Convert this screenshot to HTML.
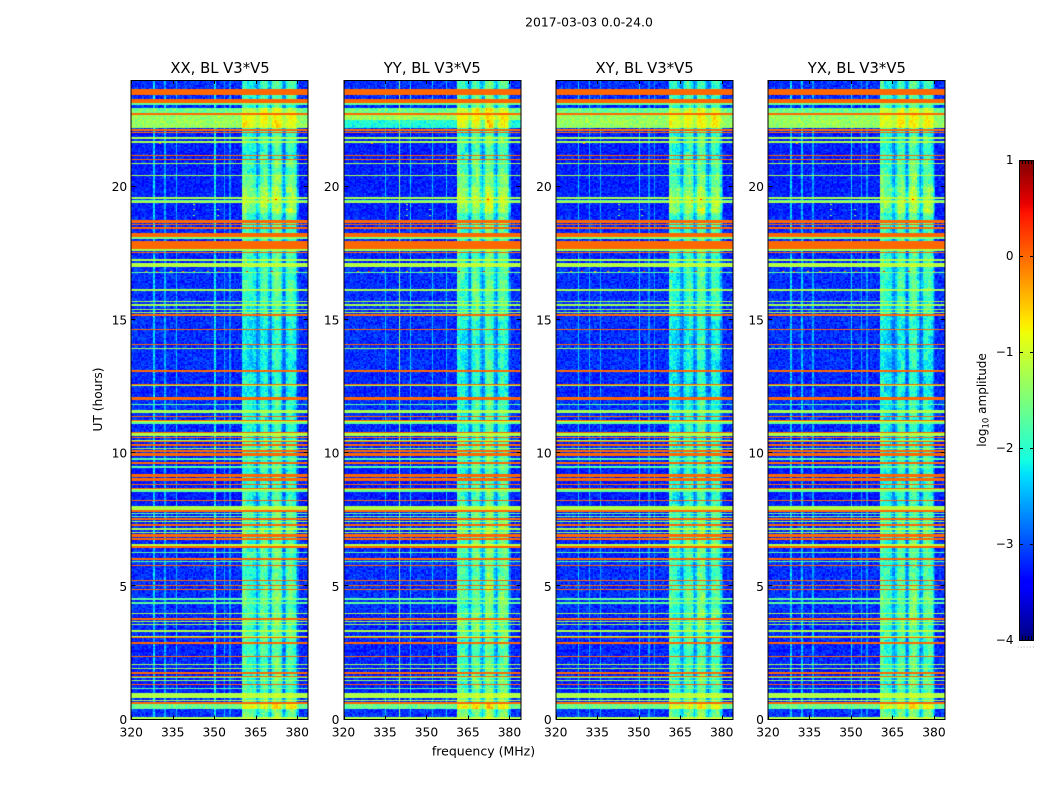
<!DOCTYPE html>
<html>
<head>
<meta charset="utf-8">
<title>2017-03-03 0.0-24.0</title>
<style>
html,body{margin:0;padding:0;background:#fff;}
#figure{position:relative;width:1050px;height:800px;overflow:hidden;background:#fff;}
#figure canvas{position:absolute;display:block;}
#overlay{position:absolute;left:0;top:0;}
#overlay text{font-family:"DejaVu Sans","Liberation Sans",sans-serif;fill:#000;}
</style>
</head>
<body>
<div id="figure">
<svg id="overlay" width="1050" height="800" viewBox="0 0 1050 800"></svg>
</div>
<script>
// ---------- chart data ----------
const panelTitles = ["XX, BL V3*V5", "YY, BL V3*V5", "XY, BL V3*V5", "YX, BL V3*V5"];
const figureTitle = "2017-03-03 0.0-24.0";
const xTickValues = [320, 335, 350, 365, 380];
const yTickValues = [0, 5, 10, 15, 20];
const colorbarTickValues = [1, 0, -1, -2, -3, -4];

// Broad horizontal bands: start hour, end hour, log10 amplitude
const wideBands = [
  [23.47,23.66,0],[23.17,23.29,0],[22.75,22.97,-1.6],[22.19,22.68,-1.35],[22.11,22.17,0],
  [21.98,22.05,0],[18.67,18.77,0],[18.41,18.49,0],[18.09,18.26,0],[18.03,18.09,-1.5],
  [17.64,17.97,0],[17.52,17.57,0],[17.21,17.28,-1.2],[16.99,17.14,-1.15],[16.76,16.82,-1.7],
  [15.33,15.41,-1.25],[14.58,14.65,0],[12.02,12.09,0],[11.55,11.61,-1.25],[11.17,11.26,-1.0],
  [10.65,10.74,-1.2],[9.10,9.20,0],[8.95,9.06,0],[8.61,8.72,-1.15],[7.86,7.98,-1.2],
  [7.08,7.19,-1.2],[6.52,6.61,-1.15],[3.29,3.36,-1.2],[3.07,3.17,-1.15],[2.03,2.09,-1.2],
  [1.28,1.35,0],[0.92,0.98,-1.2],[0.80,0.88,-1.15],[0.42,0.58,-1.65],[0.02,0.10,-1.2]
];
// Band overrides for the YY panel
const yyBands = [[22.19,22.5,-2.1],[22.5,22.68,-1.3]];
// Bands that keep visible cell-to-cell scatter: start hour, end hour
const noisyBandRanges = [[22.19,22.97],[16.76,16.82],[0.42,0.58]];
// Hours where the interference block runs hot: start hour, end hour, extra log10 gain
const hotBlockRanges = [[0.4,0.62,0.75],[22.19,22.68,0.8],[22.75,22.97,0.7]];

// Single-row horizontal lines, by hour
const orangeLineHours = [22.72,21.17,21.0,18.56,15.16,14.08,13.09,12.58,11.39,11.23,10.78,10.59,10.42,10.33,10.27,10.05,9.99,9.93,9.61,8.80,8.70,8.24,7.81,7.51,7.34,7.26,6.92,6.86,6.77,6.47,6.05,5.76,5.21,5.04,4.86,3.76,3.09,2.86,2.37,1.79,1.71,1.64,0.63];
const greenLineHours = [21.80,21.68,20.90,20.42,19.58,19.41,17.61,16.14,15.69,15.59,15.50,15.25,13.93,12.51,11.51,10.49,10.18,7.42,7.02,3.95,3.66,3.57,1.94,1.46,0.73];
const cyanLineHours = [23.13,23.07,19.47,11.80,11.14,9.76,9.46,8.55,7.70,7.61,6.26,5.92,4.55,4.36,1.56,1.17];
const orangeLineLevel = 0;
const greenLineLevel = -1.25;
const cyanLineLevel = -1.7;

// Quiet-sky level for each hour of the day
const hourBackground = [-3.15,-3.25,-3.2,-3.2,-3.15,-3.15,-3.2,-3.2,-3.25,-3.25,-3.2,-3.15,-3.2,-3.15,-3.15,-3.15,-3.15,-3.2,-3.2,-3.25,-3.25,-3.25,-3.15,-3.15];

// Log10 level of the interference block by channel (0.5 MHz each, from 320 MHz)
const channelLevels = [
 -4,-4,-4,-4,-4,-4,-4,-4,-4,-4, -4,-4,-4,-4,-4,-4,-4,-4,-4,-4,
 -4,-4,-4,-4,-4,-4,-4,-4,-4,-4, -4,-4,-4,-4,-4,-4,-4,-4,-4,-4,
 -4,-4,-4,-4,-4,-4,-4,-4,-4,-4, -4,-4,-4,-4,-4,-4,-4,-4,-4,-4,
 -4,-4,-4,-4,-4,-4,-4,-4,-4,-4, -4,-4,-4,-4,-4,-4,-4,-4,-4,-3.4,
 -2.0,-1.85,-1.9,-1.95,-2.05,-2.1,-2.1,-2.15,-2.2,-2.3,
 -2.75,-3.0,-2.5,-2.1,-1.95,-1.85,-1.85,-1.9,-2.1,-2.6,
 -3.05,-2.6,-1.95,-1.75,-1.7,-1.7,-1.75,-1.85,-2.2,-2.7,
 -3.05,-2.7,-2.1,-1.9,-1.85,-1.85,-1.9,-1.95,-2.1,-2.6,
 -3.3,-4,-4,-4,-4,-4,-4,-4
];
// Change of the interference block per half hour, 0h to 24h
const blockGainByHalfHour = [
 .35,.2,.1,.05,.05,.05,.1,.15,.1,.15,.1,.05,.1,.15,.1,0,-.05,-.05,-.05,-.05,
 0,-.1,-.15,-.15,-.25,-.25,-.3,-.25,-.35,-.25,-.1,0,.05,0,0,0,0,.1,.55,.55,
 .25,.1,-.05,-.05,.1,.1,.05,0
];
const panelBlockGain = [0.03, 0.15, 0, 0];
const panelBlockStartMHz = [360, 361, 361, 360.5];

// Narrow vertical interference lines: frequency (MHz), log10 amplitude
const xxChannelLines = [[328,-2.45],[332,-2.7],[336,-2.6],[350,-2.3],[353.5,-2.8],[355.5,-2.9]];
const yyChannelLines = [[335,-2.6],[340,-1.45],[344,-2.5],[352,-2.6],[357,-2.6]];
const xyChannelLines = [[328,-2.55],[332,-2.7],[336,-2.7],[350,-2.4],[353.5,-2.9],[355.5,-2.9]];
const yxChannelLines = [[328,-2.5],[332,-2.6],[336,-2.7],[350,-2.4],[353.5,-2.8],[355.5,-2.9]];

// Isolated bright cells: hour, frequency, log10 amplitude
const hotCells = [
 [16.78,325,-.2],[16.78,329,.3],[16.78,334,-.3],[16.78,338.5,-.2],[16.78,342.5,-.3],[16.78,347.5,-.1],[16.78,351.5,.3],
 [16.78,361.5,.4],[16.78,370.5,.4],[16.78,379.5,-.2],[21.58,330,-.2],[19.49,372,.4],[19.45,369,-.3],
 [19.3,342.5,-1.2],[19.1,342.5,-1.3],[18.9,342.5,-1.4],[19.1,351,-1.3],[18.9,351,-1.3]
];

// Cell-to-cell speckle table
const speckle = [
 .62,-.41,.13,-.88,.35,.77,-.22,-.59,.94,.08,-.71,.46,-.13,.29,-.95,.53,.18,-.34,.83,-.66,
 .04,.69,-.49,.25,-.81,.11,.58,-.27,.91,-.6,.39,-.08,-.75,.72,.21,-.44,.16,-.92,.5,.33,
 -.19,.87,-.55,.07,.64,-.37,-.84,.42,.27,-.63,.98,-.1,-.52,.3,.75,-.3,-.69,.14,.56,-.97,
 .36,-.16,.81,-.47,.02,.6,-.78,.23,.47,-.24,-.57,.89,-.04,.67,-.9,.19,.41,-.36,.74,-.65,
 .1,.52,-.83,.31,-.12,.97,-.46,-.7,.24,.66,-.29,.06,-.54,.84,-.2,.44,-.76
];

// ---------- layout ----------
const NS = "http://www.w3.org/2000/svg";
const figure = document.getElementById("figure");
const svg = document.getElementById("overlay");
const panelLefts = [131.25, 343.5, 555.75, 768];
const panelWidth = 177, plotTop = 80, plotBottom = 719.5;
const freqMin = 320, freqMax = 384, hourMin = 0, hourMax = 24;
const hourStep = 0.05, chanStep = 0.5;
const rowCount = 480, chanCount = 128;
const cbLeft = 1019, cbRight = 1034, cbTop = 160, cbBottom = 640;

function xScale(k, f) { return panelLefts[k] + (f - freqMin) / (freqMax - freqMin) * panelWidth; }
function yScale(h) { return plotBottom - (h - hourMin) / (hourMax - hourMin) * (plotBottom - plotTop); }
function cbY(v) { return cbBottom - (v + 4) / 5 * (cbBottom - cbTop); }

function jet(v) {
  const f = Math.max(0, Math.min(1, (v + 4) / 5));
  const seg = (pts) => {
    for (let i = 1; i < pts.length; i++) {
      if (f <= pts[i][0]) {
        const a = pts[i - 1], b = pts[i];
        return a[1] + (b[1] - a[1]) * (f - a[0]) / (b[0] - a[0]);
      }
    }
    return pts[pts.length - 1][1];
  };
  const r = seg([[0,0],[.35,0],[.66,1],[.89,1],[1,.5]]);
  const g = seg([[0,0],[.125,0],[.375,1],[.64,1],[.91,0],[1,0]]);
  const b = seg([[0,.5],[.11,1],[.34,1],[.65,0],[1,0]]);
  return "rgb(" + Math.round(r * 255) + "," + Math.round(g * 255) + "," + Math.round(b * 255) + ")";
}

function make(tag, attrs, text) {
  const el = document.createElementNS(NS, tag);
  for (const k in attrs) el.setAttribute(k, attrs[k]);
  if (text !== undefined) el.textContent = text;
  svg.appendChild(el);
  return el;
}

// Row levels for one panel: null where no band crosses the row
function bandRows(k) {
  const rows = new Array(rowCount).fill(null);
  const put = (start, end, level) => {
    for (let r = 0; r < rowCount; r++) {
      const c = (r + 0.5) * hourStep;
      if (c >= start && c < end) rows[r] = level;
    }
  };
  const putLine = (h, level) => {
    const r = Math.min(rowCount - 1, Math.floor(h / hourStep));
    rows[r] = level;
  };
  wideBands.forEach(b => put(b[0], b[1], b[2]));
  if (k === 1) yyBands.forEach(b => put(b[0], b[1], b[2]));
  cyanLineHours.forEach(h => putLine(h, cyanLineLevel));
  greenLineHours.forEach(h => putLine(h, greenLineLevel));
  orangeLineHours.forEach(h => putLine(h, orangeLineLevel));
  return rows;
}

function noisyRow(hour) {
  return noisyBandRanges.some(b => hour >= b[0] && hour < b[1]);
}
function hotGain(hour) {
  let g = 0;
  hotBlockRanges.forEach(b => { if (hour >= b[0] && hour < b[1]) g = b[2]; });
  return g;
}

const panelChannelLines = [xxChannelLines, yyChannelLines, xyChannelLines, yxChannelLines];

function drawHeatmap(k) {
  const left = Math.floor(panelLefts[k]);
  const top = plotTop;
  const w = panelWidth + 1, h = Math.ceil(plotBottom - plotTop);
  const canvas = document.createElement("canvas");
  
  
  canvas.width = w; canvas.height = h;
  canvas.style.left = left + "px";
  canvas.style.top = top + "px";
  figure.insertBefore(canvas, svg);
  const ctx = canvas.getContext("2d");
  const rows = bandRows(k);
  const lineLevels = channelLevels.slice();
  const isLine = new Array(chanCount).fill(false);
  panelChannelLines[k].forEach(l => {
    const c = Math.round((l[0] - freqMin) / chanStep);
    lineLevels[c] = l[1];
    isLine[c] = true;
  });
  for (let r = 0; r < rowCount; r++) {
    const hour = r * hourStep;
    const bg = hourBackground[Math.floor(hour)];
    const centre = hour + hourStep / 2;
    const gain = blockGainByHalfHour[Math.floor(hour * 2)] + panelBlockGain[k] + hotGain(centre);
    const bandNoise = noisyRow(centre) ? 0.28 : 0.02;
    const y0 = Math.round(yScale(hour + hourStep)) - top;
    const y1 = Math.round(yScale(hour)) - top;
    for (let c = 0; c < chanCount; c++) {
      const f = freqMin + c * chanStep;
      const sp = speckle[(r * r * 3 + c * c * 7 + r * c * 11 + r * 5 + c * 13) % speckle.length];
      let level = lineLevels[c];
      const inBlock = !isLine[c] && f >= panelBlockStartMHz[k] - 1;
      const active = level > -3.9 && (isLine[c] || f >= panelBlockStartMHz[k]);
      if (inBlock) level += gain;
      let v = bg + sp * 0.28;
      if (active) {
        const sp2 = speckle[(r * 13 + c * c * 5 + r * c * 3 + 17) % speckle.length];
        const br = Math.floor(r / 6), bc = Math.floor(c / 4);
        const patch = speckle[(br * br * 5 + bc * bc * 3 + br * bc * 7 + k * 11 + br * 3) % speckle.length];
        v = Math.log10(Math.pow(10, v) + Math.pow(10, level + sp2 * 0.33 + (inBlock ? patch * 0.2 : 0)));
      }
      const band = rows[r];
      if (band === 0) v = 0;
      else if (band !== null) v = Math.log10(Math.pow(10, v) + Math.pow(10, band + sp * bandNoise));
      const x0 = Math.round(xScale(k, f)) - left;
      const x1 = Math.round(xScale(k, f + chanStep)) - left;
      ctx.fillStyle = jet(v);
      ctx.fillRect(x0, y0, x1 - x0, y1 - y0);
    }
  }
  hotCells.forEach(cell => {
    const x0 = Math.round(xScale(k, cell[1])) - left;
    const y0 = Math.round(yScale(cell[0] + hourStep)) - top;
    ctx.fillStyle = jet(cell[2]);
    ctx.fillRect(x0, y0, 2, 1);
  });
}

// ---------- panels ----------
panelTitles.forEach((title, k) => {
  drawHeatmap(k);
  const code = title.slice(0, 2).toLowerCase();
  const left = panelLefts[k];
  const fl = Math.round(left) + 0.5, fr = Math.round(left + panelWidth) - 0.5;

  const frame = make("rect", { x: fl - 0.5, y: plotTop + 0.5, width: fr - fl + 1, height: plotBottom - plotTop - 0.5, fill: "none", stroke: "#000", "stroke-width": 1 });
  
  

  const titleEl = make("text", { x: left + panelWidth / 2 + 0.3, y: 73, "text-anchor": "middle", "font-size": 14.8 }, title);
  
  

  xTickValues.forEach(v => {
    const x = Math.round(xScale(k, v)) + 0.5;
    const tb = make("line", { x1: x, x2: x, y1: plotBottom, y2: plotBottom - 4, stroke: "#000", "stroke-width": 1 });
    
    
    const tt = make("line", { x1: x, x2: x, y1: plotTop, y2: plotTop + 4, stroke: "#000", "stroke-width": 1 });
    
    
    const lab = make("text", { x: xScale(k, v), y: 736.5, "text-anchor": "middle", "font-size": 12.3 }, String(v));
    
    
  });

  yTickValues.forEach(v => {
    const y = Math.round(yScale(v)) - 0.5;
    const tl = make("line", { x1: fl, x2: fl + 4, y1: y, y2: y, stroke: "#000", "stroke-width": 1 });
    
    
    const tr = make("line", { x1: fr, x2: fr - 4, y1: y, y2: y, stroke: "#000", "stroke-width": 1 });
    
    
    const lab = make("text", { x: left - 4, y: yScale(v) + 4.5, "text-anchor": "end", "font-size": 12.3 }, String(v));
    
    
  });
});

// ---------- figure text ----------
const figTitleEl = make("text", { x: 589, y: 26.5, "text-anchor": "middle", "font-size": 12.4 }, figureTitle);



const yLabelEl = make("text", { x: 0, y: 0, transform: "translate(102,399.5) rotate(-90)", "text-anchor": "middle", "font-size": 12.2 }, "UT (hours)");



const xLabelEl = make("text", { x: 483.5, y: 755.5, "text-anchor": "middle", "font-size": 12.5 }, "frequency (MHz)");



// ---------- colorbar ----------
const cbSteps = 240;
for (let i = 0; i < cbSteps; i++) {
  const v0 = -4 + 5 * i / cbSteps, v1 = -4 + 5 * (i + 1) / cbSteps;
  const seg = make("rect", { x: cbLeft, y: cbY(v1), width: cbRight - cbLeft, height: cbY(v0) - cbY(v1) + 0.3, fill: jet((v0 + v1) / 2) });
  
  
}
const cbFrame = make("rect", { x: cbLeft + 0.5, y: cbTop + 0.5, width: cbRight - cbLeft - 1, height: cbBottom - cbTop, fill: "none", stroke: "#000", "stroke-width": 1 });



colorbarTickValues.forEach(v => {
  const y = Math.round(cbY(v)) + 0.5;
  const a = make("line", { x1: cbLeft, x2: cbLeft + 4, y1: y, y2: y, stroke: "#000", "stroke-width": 1 });
  
  
  const b = make("line", { x1: cbRight, x2: cbRight - 4, y1: y, y2: y, stroke: "#000", "stroke-width": 1 });
  
  
  const lab = make("text", { x: 1013.5, y: cbY(v) + 4, "text-anchor": "end", "font-size": 12 }, String(v).replace("-", "\u2212"));
  
  
});
[0.2, 0.4, 0.6, 0.8].forEach(p => {
  const x = Math.round(cbLeft + p * (cbRight - cbLeft)) + 0.5;
  const a = make("line", { x1: x, x2: x, y1: cbTop, y2: cbTop + 4, stroke: "#000", "stroke-width": 1 });
  
  
  const b = make("line", { x1: x, x2: x, y1: cbBottom, y2: cbBottom - 4, stroke: "#000", "stroke-width": 1 });
  
  
});
const cbDots = make("text", { x: 1017, y: 647.5, "font-size": 7, "letter-spacing": "0.8px", style: "fill:#777" }, "......");



const cbLabel = make("text", { x: 0, y: 0, transform: "translate(986,400) rotate(-90)", "text-anchor": "middle", "font-size": 12 });


const tA = document.createElementNS(NS, "tspan"); tA.textContent = "log";
const tB = document.createElementNS(NS, "tspan"); tB.textContent = "10";
tB.setAttribute("dy", "2.5"); tB.setAttribute("font-size", "8.5");
const tC = document.createElementNS(NS, "tspan"); tC.textContent = " amplitude";
tC.setAttribute("dy", "-2.5");
cbLabel.appendChild(tA); cbLabel.appendChild(tB); cbLabel.appendChild(tC);
</script>
</body>
</html>
